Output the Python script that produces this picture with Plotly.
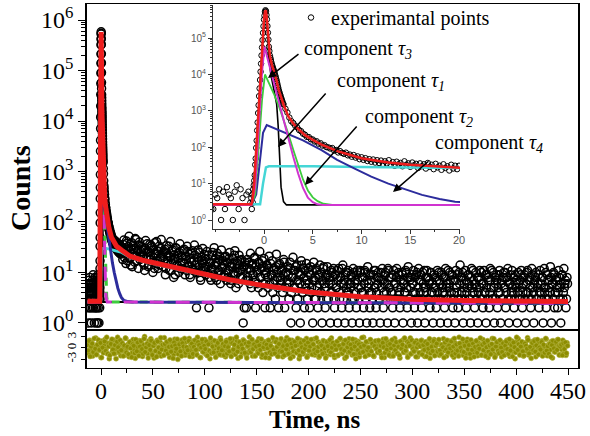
import numpy as np
import plotly.graph_objects as go

W, H = 590, 436
def px(x): return x / W
def py(y): return 1 - y / H

SERIF = "Liberation Serif, Times New Roman, serif"
SANS = "Liberation Sans, Arial, sans-serif"

# ---------------- experimental counts (read from the picture) ----------------
# t = -13.0 ... -1.4 ns, step 0.2
counts_pre = [3, 5, 2, 6, 4, 1, 7, 3, 4, 5, 2, 8, 3, 4, 6, 2, 5, 3, 1, 4,
              6, 3, 5, 2, 7, 4, 3, 9, 5, 2, 4, 6, 3, 1, 5, 4, 8, 3, 2,
              2, 5, 4, 7, 1, 6, 2, 8, 5, 4, 1, 6, 9, 2, 7, 4, 1, 5, 6, 3]
# t = -1.30 ... 1.95 ns, step 0.05
counts_peak = [4, 2, 5, 3, 7, 9, 12, 17, 33, 49, 96, 152, 290, 480, 870, 1430,
               2540, 4150, 7080, 11900, 19800, 33400, 55100, 88500, 139000,
               212000, 321000, 414000, 528000, 583000, 547000, 431000, 328000,
               214000, 141000, 90500, 57600, 44100, 33200, 28800, 25100, 21800,
               19000, 17300, 15500, 14300, 12900, 11800, 10600, 9500, 8450, 7480,
               6640, 5770, 5030, 4410, 3830, 3420, 3060, 2790, 2530, 2280, 2090,
               1910, 1720, 1580]
# t = 2.0 ... 19.8 ns, step 0.2
counts_tail = [1510, 1140, 900, 655, 520, 462, 391, 352, 298, 276,
               236, 221, 193, 190, 166, 163, 144, 146, 125, 129,
               111, 114, 101, 99, 92, 95, 81, 84, 72, 78,
               70, 66, 71, 60, 63, 55, 61, 52, 56, 47,
               53, 45, 50, 42, 47, 40, 46, 38, 44, 37,
               43, 35, 41, 36, 44, 33, 39, 31, 40, 34,
               37, 30, 41, 33, 36, 29, 38, 32, 35, 27,
               36, 30, 34, 26, 37, 29, 33, 25, 35, 28,
               31, 24, 34, 27, 30, 23, 33, 26, 31, 25]
# t = 20 ... 449 ns, step 1
d020 = [31, 18, 44, 25, 15, 38, 22, 52, 19, 29, 13, 35, 24, 47, 17, 27, 12, 40, 21, 33]
d040 = [16, 28, 11, 43, 20, 25, 14, 36, 18, 31, 10, 24, 39, 15, 27, 12, 33, 19, 45, 22]
d060 = [13, 26, 9, 34, 17, 22, 11, 41, 15, 28, 8, 19, 31, 14, 24, 10, 37, 16, 21, 12]
d080 = [29, 9, 18, 33, 13, 23, 8, 16, 27, 11, 35, 14, 2, 20, 10, 25, 7, 17, 30, 12]
d100 = [19, 9, 26, 13, 2, 16, 7, 22, 11, 31, 8, 15, 24, 10, 18, 6, 28, 12, 14, 9]
d120 = [21, 7, 16, 11, 25, 6, 13, 19, 9, 27, 5, 15, 10, 22, 8, 17, 12, 1, 2, 14]
d140 = [2, 18, 7, 12, 24, 5, 15, 9, 20, 2, 11, 6, 16, 26, 8, 13, 4, 19, 2, 10]
d160 = [14, 5, 21, 2, 9, 17, 6, 12, 3, 23, 8, 2, 15, 7, 11, 4, 18, 2, 10, 6]
d180 = [13, 3, 16, 1, 8, 20, 5, 11, 2, 14, 7, 9, 1, 17, 4, 12, 2, 6, 15, 3]
d200 = [10, 2, 13, 5, 1, 16, 7, 3, 11, 2, 8, 14, 4, 1, 12, 6, 2, 9, 13, 3]
d220 = [7, 1, 11, 4, 12, 2, 9, 5, 1, 12, 3, 8, 2, 14, 6, 1, 10, 4, 11, 2]
d240 = [6, 9, 1, 12, 3, 7, 2, 11, 5, 1, 10, 4, 8, 2, 11, 3, 1, 13, 6, 2]
d260 = [9, 4, 1, 11, 5, 2, 8, 10, 3, 1, 7, 12, 2, 6, 10, 4, 1, 11, 5, 3]
d280 = [8, 2, 11, 1, 6, 12, 3, 9, 2, 5, 10, 1, 7, 4, 10, 2, 13, 3, 8, 1]
d300 = [6, 11, 2, 4, 9, 1, 12, 3, 7, 2, 10, 5, 1, 8, 11, 3, 6, 2, 10, 4]
d320 = [1, 9, 5, 2, 11, 3, 7, 1, 10, 4, 8, 2, 12, 5, 1, 6, 10, 3, 9, 2]
d340 = [7, 1, 11, 4, 2, 10, 14, 3, 8, 1, 6, 11, 2, 5, 9, 3, 1, 12, 4, 7]
d360 = [2, 10, 5, 1, 8, 11, 3, 6, 2, 11, 4, 1, 9, 7, 2, 12, 5, 3, 10, 1]
d380 = [6, 9, 2, 4, 11, 1, 7, 3, 10, 5, 2, 8, 12, 1, 6, 3, 11, 4, 2, 9]
d400 = [5, 1, 10, 3, 7, 11, 2, 6, 9, 1, 4, 11, 3, 8, 2, 12, 5, 1, 7, 10]
d420 = [3, 6, 2, 11, 4, 8, 1, 12, 5, 2, 9, 3, 7, 13, 1, 6, 10, 2, 4, 8]
d440 = [2, 11, 5, 1, 9, 3, 12, 6, 2, 8]
counts_decay = (d020 + d040 + d060 + d080 + d100 + d120 + d140 + d160 + d180 + d200 +
                d220 + d240 + d260 + d280 + d300 + d320 + d340 + d360 + d380 + d400 +
                d420 + d440)
# t = 20.5 ... 449.5 ns, step 1
b020 = [24, 36, 20, 29, 42, 17, 33, 26, 14, 39, 23, 30, 16, 45, 21, 28, 35, 18, 26, 31]
b040 = [22, 14, 30, 19, 37, 13, 25, 21, 34, 16, 28, 12, 23, 41, 17, 26, 14, 30, 20, 24]
b060 = [18, 29, 12, 24, 15, 33, 20, 11, 26, 17, 22, 9, 30, 14, 19, 25, 12, 21, 16, 27]
b080 = [15, 21, 11, 26, 14, 9, 19, 24, 12, 17, 22, 10, 16, 28, 13, 8, 20, 15, 11, 23]
b100 = [13, 18, 10, 22, 8, 15, 12, 25, 9, 14, 19, 7, 16, 11, 21, 9, 13, 17, 8, 20]
b120 = [11, 16, 8, 19, 13, 7, 15, 10, 22, 9, 12, 17, 6, 14, 11, 18, 8, 13, 16, 7]
b140 = [12, 8, 16, 6, 11, 14, 9, 19, 7, 13, 10, 5, 15, 8, 12, 17, 6, 11, 9, 14]
b160 = [8, 12, 6, 15, 9, 4, 11, 7, 13, 10, 5, 14, 8, 6, 12, 9, 16, 5, 10, 7]
b180 = [9, 6, 12, 4, 8, 11, 5, 13, 7, 3, 10, 6, 9, 14, 4, 8, 11, 5, 7, 12]
b200 = [6, 9, 4, 11, 7, 3, 8, 12, 5, 9, 6, 4, 10, 7, 13, 5, 8, 3, 9, 6]
b220 = [8, 4, 10, 6, 3, 9, 5, 11, 7, 4, 8, 6, 12, 3, 7, 9, 5, 10, 4, 6]
b240 = [5, 8, 3, 10, 6, 4, 9, 7, 3, 11, 5, 8, 4, 6, 10, 3, 7, 5, 9, 4]
b260 = [7, 3, 9, 5, 11, 4, 6, 8, 3, 10, 5, 7, 4, 9, 3, 6, 12, 5, 8, 4]
b280 = [4, 9, 6, 3, 8, 5, 10, 4, 7, 3, 9, 6, 4, 11, 5, 8, 3, 7, 5, 9]
b300 = [6, 4, 8, 3, 10, 5, 7, 4, 9, 3, 6, 11, 5, 4, 8, 3, 7, 10, 4, 6]
b320 = [5, 8, 3, 7, 4, 10, 6, 3, 9, 5, 4, 8, 6, 3, 11, 5, 7, 4, 9, 3]
b340 = [4, 7, 5, 9, 3, 6, 8, 4, 10, 5, 3, 7, 4, 9, 6, 3, 8, 5, 11, 4]
b360 = [6, 3, 8, 4, 7, 5, 10, 3, 6, 4, 9, 5, 3, 8, 4, 7, 11, 3, 5, 8]
b380 = [3, 7, 5, 9, 4, 6, 3, 8, 5, 10, 4, 7, 3, 6, 9, 4, 5, 8, 3, 6]
b400 = [7, 4, 6, 3, 9, 5, 4, 8, 3, 6, 10, 4, 7, 5, 3, 9, 4, 6, 8, 3]
b420 = [5, 9, 4, 6, 3, 8, 5, 4, 10, 3, 7, 5, 4, 8, 6, 3, 9, 4, 7, 5]
b440 = [4, 8, 3, 6, 9, 4, 5, 7, 3, 6]
counts_decay_b = (b020 + b040 + b060 + b080 + b100 + b120 + b140 + b160 + b180 + b200 +
                  b220 + b240 + b260 + b280 + b300 + b320 + b340 + b360 + b380 + b400 +
                  b420 + b440)

# ---------------- fitted curves ----------------
fit_t = [-13, -1.3, -1.2, -1.1, -1.0, -0.9, -0.8, -0.7, -0.6, -0.5, -0.4, -0.3, -0.2,
         -0.1, 0.0, 0.1, 0.15, 0.2, 0.3, 0.4, 0.5, 0.6, 0.8, 1.0, 1.25, 1.5, 2.0, 2.5,
         3.0, 3.5, 4.2, 5.0, 5.9, 7.6, 10, 12.75, 15, 20, 28, 40, 60, 76, 100, 124,
         150, 172, 200, 250, 300, 350, 400, 450]
fit_v = [2.7, 2.7, 3.2, 5, 11, 30, 90, 280, 850, 2500, 7000, 20000, 55000,
         140000, 320000, 530000, 580000, 550000, 330000, 140000, 58000, 33000, 19000,
         13000, 7500, 3800, 1500, 700, 450, 320, 215, 160, 118, 77, 50, 38, 33, 27.5,
         21, 17.5, 14, 12, 9.3, 7.2, 5.8, 4.9, 4.1, 3.3, 2.95, 2.8, 2.7, 2.65]

tau1_t = [-13, -1.3, -0.9, -0.5, -0.1, 0.1, 0.3, 0.5, 0.7, 1.0, 1.3, 1.45, 1.6, 1.75, 2.0, 2.3, 20, 450]
tau1_v = [2.6, 2.6, 30, 2000, 130000, 460000, 260000, 30000, 10000, 4000, 1500, 400, 40, 8, 3.2, 2.6, 2.6, 2.45]

tau3_t = [-13, -1.3, -0.9, -0.5, -0.2, 0.05, 0.5, 1.0, 1.5, 2.0, 2.5, 3.0, 3.5, 4.0, 4.5, 5.0, 5.5, 6.0, 20, 450]
tau3_v = [2.6, 2.6, 8, 400, 12000, 58000, 20000, 6000, 1800, 560, 170, 55, 19, 7.6, 4.1, 3.1, 2.7, 2.6, 2.6, 2.45]

tau2_t = [-13, -1.3, -0.9, -0.5, -0.2, 0.1, 0.5, 1.0, 1.5, 2.0, 2.5, 3.0, 3.5, 4.0, 4.5, 5.0, 5.5, 6.1, 7.0, 20, 450]
tau2_v = [2.6, 2.6, 5, 120, 2000, 10000, 6000, 3000, 1400, 600, 230, 85, 32, 13, 6.5, 4.2, 3.3, 2.8, 2.6, 2.6, 2.45]

tau4_t = [-13, -1.3, -0.8, -0.4, -0.1, 0.28, 1.0, 2.5, 4.0, 5.9, 7.5, 9.3, 11, 12.75, 14.5, 16.2, 18, 19.6, 22, 26, 30, 450]
tau4_v = [2.6, 2.6, 5, 60, 250, 410, 340, 240, 155, 83, 45, 26, 15.5, 10, 6.8, 4.9, 3.8, 3.2, 2.8, 2.65, 2.6, 2.45]

long_t = [-13, -0.4, -0.1, 0.2, 0.5, 5, 10, 15, 20, 28, 40, 60, 76, 100, 124, 150, 172, 200, 250, 300, 450]
long_v = [2.6, 2.7, 10, 28, 30, 30, 28.5, 27, 25, 20, 16.8, 13.4, 11.5, 8.9, 6.9, 5.5, 4.7, 3.9, 3.15, 2.85, 2.6]

# ---------------- weighted residuals ----------------
# t = -13 ... 449 ns, step 1
res_a = [0.8, -1.4, 2.1, -0.3, 1.6, -2.2, 0.4, -0.9, 2.7, -1.8, 1.1, -0.6, 0.2, -2.6, 1.9, -1.1, 0.7, 2.4, -0.2, -1.5,
         1.3, -2.9, 0.5, 1.8, -0.8, 2.2, -1.6, 0.1, -0.4, 2.9, -1.2, 0.9, -2.1, 1.5, -0.7, 0.3, -1.9, 2.6, -0.1, 1.0,
         -2.4, 0.6, 1.7, -1.3, 2.3, -0.5, -2.8, 1.2, 0.2, -1.7, 2.0, -0.9, 1.4, -2.3, 0.8, 3.1, -1.0, 0.4, -1.6, 1.9,
         -0.2, 2.5, -1.4, 0.7, -2.7, 1.1, -0.6, 2.1, -1.9, 0.3, 1.6, -2.2, 0.9, -0.3, 2.8, -1.5, 0.5, -1.1, 1.3, -2.5,
         1.8, -0.4, 0.6, -1.8, 2.4, -0.9, 1.0, -3.1, 0.2, 1.5, -1.2, 2.2, -0.7, 0.8, -2.0, 1.7, -0.1, -1.4, 2.6, -0.6,
         0.4, -2.3, 1.9, -0.8, 1.2, -1.6, 2.9, -0.3, 0.7, -2.6, 1.4, -1.0, 0.1, 2.3, -1.7, 0.9, -0.5, 1.6, -2.9, 1.1,
         -1.3, 2.0, -0.2, 0.6, -2.1, 1.8, -1.1, 0.3, 2.7, -1.9, 0.5, -0.7, 1.3, -2.4, 2.1, -0.4, 0.8, -1.5, 1.5, -0.9,
         2.4, -1.7, 0.2, -0.6, 1.9, -2.8, 1.0, -0.3, 0.7, -1.4, 2.2, -0.8, 1.6, -2.0, 0.4, -1.2, 3.0, -0.5, 0.9, -2.2]
res_b = [0.6, 1.4, -1.9, 0.3, -0.9, 2.5, -1.3, 1.1, -2.5, 0.8, -0.2, 1.7, -1.6, 0.5, 2.0, -2.7, 1.2, -0.4, 0.1, -1.0,
         1.9, -0.6, 2.3, -2.0, 0.7, -1.1, 1.5, -0.3, -2.4, 1.0, 0.4, -1.8, 2.8, -0.7, 1.3, -1.5, 0.2, 2.1, -2.3, 0.6,
         -0.8, 1.6, -1.2, 0.9, -2.9, 2.2, -0.1, 0.5, -1.6, 1.8, -0.5, 2.6, -2.1, 0.3, -0.9, 1.4, -1.4, 0.8, 2.4, -1.9,
         0.2, -1.0, 1.7, -2.5, 0.6, 1.2, -0.7, 2.0, -1.3, 0.4, -2.2, 1.5, -0.2, 0.9, -1.8, 2.7, -0.6, 1.1, -2.6, 0.7,
         1.4, -2.1, 0.3, 2.3, -1.5, 0.8, -0.4, 1.9, -2.8, 1.0, 0.1, -1.2, 2.5, -0.8, 0.6, -1.9, 1.3, -0.3, 2.2, -1.6,
         -0.5, 1.8, -2.4, 0.7, 1.1, -1.0, 2.9, -0.6, 0.4, -2.0, 1.6, -1.3, 0.2, 2.1, -1.7, 0.9, -2.3, 1.5, -0.1, 0.5,
         2.0, -0.9, 1.2, -1.8, 0.3, 2.4, -2.6, 0.8, -0.4, 1.7, -1.1, 0.6, -2.2, 1.9, 0.1, -1.4, 2.6, -0.7, 1.0, -1.5,
         0.7, -2.7, 1.5, -0.2, 2.2, -1.2, 0.4, -0.8, 1.8, -2.1, 0.9, 2.7, -1.6, 0.3, -1.0, 1.3, -0.5, 2.0, -2.4, 1.1]
res_c = [-1.4, 0.5, 2.1, -0.9, 1.4, -2.3, 0.2, 1.7, -1.1, 0.6, -2.8, 1.9, -0.3, 0.8, 2.3, -1.7, 1.0, -0.6, 1.6, -2.0,
         0.9, -1.5, 0.3, 2.5, -0.7, 1.2, -2.2, 0.6, 1.9, -1.3, 0.1, -0.9, 2.2, -2.5, 1.4, -0.4, 0.7, -1.8, 2.9, -0.2,
         1.1, -0.8, -2.0, 1.6, 0.4, -1.6, 2.4, -0.5, 1.0, -2.7, 0.8, 1.5, -1.2, 0.2, -0.6, 2.0, -2.1, 1.3, -0.3, 0.9,
         -1.9, 2.3, -0.4, 0.7, -1.3, 1.8, -2.6, 1.1, 0.3, -0.9, 2.6, -1.5, 0.5, -2.0, 1.2, -0.1, 1.7, -1.1, 0.6, -2.4,
         1.5, -0.3, 0.8, -1.7, 2.1, -0.6, 1.3, -2.3, 0.2, 1.9, -1.0, 0.4, -2.9, 1.6, -0.5, 2.5, -1.4, 0.9, -0.2, 1.2,
         -2.2, 0.6, 1.4, -0.8, 2.8, -1.9, 0.1, -0.7, 1.7, -1.2, 0.5, 2.2, -2.4, 1.0, -0.3, 1.5, -1.6, 0.3, 2.0, -0.9,
         0.4, -1.3, 2.4, -2.1, 0.9, 1.1, -0.5, 1.8, -2.7, 0.7, -1.0, 1.3, -0.2, 2.3, 0.6, -1.8, 1.0, -0.4, 2.1, -1.5,
         0.3, -2.0, 1.4]
# t = -12.5 ... 449.5 ns, step 1
res_d = [-0.7, 1.9, -2.3, 0.4, 1.2, -1.1, 2.6, -0.2, -1.8, 0.9, 2.2, -0.5, 1.4, -2.6, 0.1, -1.3, 1.8, -0.8, 2.9, -1.6,
         0.5, -2.0, 1.1, 2.4, -0.4, -1.5, 0.8, -2.9, 1.7, 0.2, -1.0, 2.1, -0.6, 1.3, -2.2, 0.7, 2.7, -1.2, 0.3, -1.7,
         1.6, -0.1, -2.5, 1.0, 0.6, -1.4, 2.3, -0.9, 1.5, -2.1, 0.4, 1.9, -0.3, -1.6, 2.5, -1.1, 0.2, 1.2, -2.7, 0.8,
         -0.5, 2.0, -1.9, 0.6, 1.4, -0.8, -2.4, 1.8, 0.1, -1.2, 2.8, -0.4, 0.9, -2.0, 1.1, -0.7, 1.7, -1.5, 0.3, 2.2,
         -1.0, 0.5, -2.8, 1.5, 0.7, -0.2, 2.4, -1.7, 1.0, -0.9, -2.2, 1.3, 0.4, 2.6, -1.3, 0.2, -0.6, 1.9, -2.3, 0.9,
         1.2, -1.6, 0.3, 2.1, -0.5, -1.9, 1.6, 0.8, -2.6, 0.1, 2.3, -1.1, 0.6, -0.3, 1.8, -2.1, 1.0, -0.8, 2.7, -1.4,
         0.4, -1.2, 2.0, -2.5, 0.7, 1.4, -0.1, -1.8, 2.2, -0.6, 1.1, -2.0, 0.5, 1.7, -1.5, 0.2, -0.9, 2.5, -2.3, 1.3,
         -0.4, 0.9, -1.7, 2.9, -1.0, 0.3, 1.6, -2.4, 0.8, -0.2, 2.0, -1.3, 1.2, -2.7, 0.6, 1.5, -0.7, -1.1, 2.3, -0.3]
res_e = [1.0, -2.2, 0.4, 1.8, -1.4, 0.7, -0.5, 2.4, -1.9, 0.2, 1.3, -2.6, 0.9, -0.1, 2.1, -1.2, 0.6, -1.7, 2.8, -0.4,
         -1.5, 1.6, 0.3, -2.3, 1.1, -0.8, 2.5, -1.0, 0.5, -2.0, 1.9, -0.3, 0.8, -1.6, 2.2, -2.8, 1.2, 0.1, -0.9, 1.7,
         0.6, -1.3, 2.6, -0.6, -2.1, 1.4, 0.2, -1.1, 2.0, -0.2, 0.9, -2.5, 1.5, -0.7, 0.4, 2.3, -1.8, 1.0, -0.5, -1.4,
         2.7, -0.9, 0.3, -2.2, 1.2, 0.7, -1.6, 1.9, -0.1, -2.7, 1.6, 0.5, -0.8, 2.2, -1.2, 0.1, 1.4, -2.0, 0.8, -0.4,
         1.8, -1.9, 0.6, 2.6, -0.3, -1.5, 1.1, -0.7, 2.1, -2.4, 0.2, 1.3, -1.0, 0.9, -0.2, 2.4, -1.7, 0.4, -2.9, 1.5,
         -0.6, 1.0, -1.4, 0.3, 2.8, -1.1, 0.7, -2.3, 1.7, -0.5, 0.1, -1.8, 2.3, -0.9, 1.2, -2.1, 0.5, 1.9, -0.3, -1.2,
         2.0, -0.8, 0.6, -2.6, 1.4, 0.2, -1.3, 2.5, -0.4, 0.8, -1.9, 1.1, -0.1, 2.2, -2.2, 0.7, -0.6, 1.6, -1.5, 0.3,
         -2.0, 1.8, -0.2, 0.9, -1.1, 2.7, -0.7, 0.4, -2.5, 1.3, 0.6, -1.6, 2.1, -0.3, -0.9, 1.5, -2.4, 0.2, 1.0, -1.3]
res_f = [0.5, 2.0, -1.8, 0.8, -0.5, 1.6, -2.3, 1.1, -0.2, 2.5, -1.4, 0.3, -0.8, 1.9, -2.1, 0.6, 1.2, -1.0, 2.3, -0.6,
         -1.7, 0.9, 0.2, -2.6, 1.5, -0.4, 2.1, -1.2, 0.7, -0.1, 1.8, -2.0, 0.4, 2.6, -1.5, 1.0, -0.7, -2.2, 1.3, 0.1,
         -0.9, 2.4, -1.1, 0.6, -2.7, 1.7, -0.3, 0.8, -1.6, 2.2, -0.5, 1.2, -2.4, 0.3, 1.9, -1.3, 0.5, -0.2, 2.7, -1.9,
         0.9, -0.6, 1.4, -2.2, 0.2, 2.0, -1.0, 0.7, -1.7, 1.1, -0.4, 2.5, -2.5, 0.4, 1.6, -0.8, -1.4, 2.1, 0.1, -1.1,
         1.3, -2.0, 0.6, 1.8, -0.3, -1.6, 2.4, -0.7, 0.8, -2.3, 1.5, 0.2, -1.2, 2.9, -0.5, 1.0, -1.9, 0.4, 1.7, -0.9,
         -2.1, 1.2, 0.6, -0.2, 2.2, -1.5, 0.3, -2.8, 1.4, -0.6, 1.9, -1.0, 0.7, 2.3, -1.8, 0.1, -0.4, 1.6, -2.2, 0.9,
         -1.3, 2.6, -0.7, 0.5, -1.6, 1.1, -2.4, 0.8, 2.0, -0.1, -1.1, 1.7, -0.5, 2.3, -1.9, 0.4, 0.9, -2.0, 1.3, -0.3,
         1.5, -1.4, 0.6]
residuals = res_a + res_b + res_c
residuals_half = res_d + res_e + res_f

# ---------------- axis ticks ----------------
decades = [1, 10, 100, 1000, 10000, 100000, 1000000]
decade_labels = ["10<sup>0</sup>", "10<sup>1</sup>", "10<sup>2</sup>", "10<sup>3</sup>",
                 "10<sup>4</sup>", "10<sup>5</sup>", "10<sup>6</sup>"]
minor_log = [m * d for d in decades[:-1] for m in range(2, 10)]
inset_ticks = [0, 5, 10, 15, 20]
res_ticks = [-3, 0, 3]

t_exp = np.concatenate([
    -13.0 + 0.2 * np.arange(len(counts_pre)),
    -1.3 + 0.05 * np.arange(len(counts_peak)),
    2.0 + 0.2 * np.arange(len(counts_tail)),
    20.0 + np.arange(len(counts_decay)),
    20.5 + np.arange(len(counts_decay_b)),
])
c_exp = np.concatenate([counts_pre, counts_peak, counts_tail, counts_decay,
                        counts_decay_b]).astype(float)
t_res = np.concatenate([-13.0 + np.arange(len(residuals)),
                        -12.5 + np.arange(len(residuals_half))])
r_res = np.array(residuals + residuals_half)

RED = "#ee1d1d"
BLUE = "#2c2c9c"
GREEN = "#3ccc3c"
MAGENTA = "#d033d0"
CYAN = "#44d6d6"
OLIVE = "#8c8c00"

fig = go.Figure()

# ---- main panel ----
fig.add_trace(go.Scatter(x=t_exp, y=c_exp, mode="markers", xaxis="x", yaxis="y",
                         marker=dict(symbol="circle-open", size=8, color="black", line=dict(width=1.5)),
                         showlegend=False))
main_curves = [
    (tau1_t, tau1_v, "black", 2, "solid"),
    (tau2_t, tau2_v, GREEN, 3, "8px,6px"),
    (long_t, long_v, CYAN, 3, "solid"),
    (tau4_t, tau4_v, BLUE, 3, "solid"),
    (tau3_t, tau3_v, MAGENTA, 3, "14px,12px"),
    (fit_t, fit_v, RED, 5, "solid"),
]
for xs, ys, col, w, dash in main_curves:
    fig.add_trace(go.Scatter(x=xs, y=ys, mode="lines", xaxis="x", yaxis="y",
                             line=dict(color=col, width=w, dash=dash), showlegend=False))

# ---- residual panel ----
fig.add_trace(go.Scatter(x=t_res, y=r_res, mode="markers", xaxis="x2", yaxis="y2",
                         marker=dict(symbol="circle", size=5, color=OLIVE,
                                     line=dict(width=0.6, color="#b4b440")),
                         showlegend=False))

# ---- inset ----
fig.add_trace(go.Scatter(x=t_exp, y=c_exp, mode="markers", xaxis="x3", yaxis="y3",
                         name="experimantal points",
                         marker=dict(symbol="circle-open", size=5.5, color="black", line=dict(width=1)),
                         showlegend=True))
inset_curves = [
    (tau1_t, tau1_v, "black", 1.6),
    (long_t, long_v, CYAN, 2.5),
    (tau4_t, tau4_v, BLUE, 2),
    (tau2_t, tau2_v, GREEN, 1.8),
    (tau3_t, tau3_v, MAGENTA, 2),
    (fit_t, fit_v, RED, 2.5),
]
for xs, ys, col, w in inset_curves:
    fig.add_trace(go.Scatter(x=xs, y=ys, mode="lines", xaxis="x3", yaxis="y3",
                             line=dict(color=col, width=w), showlegend=False))

tickfont_main = dict(family=SERIF, size=24, color="black")
inset_font = dict(family=SANS, size=10, color="#555555")

fig.update_layout(
    width=W, height=H,
    margin=dict(l=0, r=0, t=0, b=0, autoexpand=False),
    paper_bgcolor="white", plot_bgcolor="white",
    xaxis=dict(domain=[px(87), px(578)], range=[-13.5, 459.6], anchor="y",
               showline=True, mirror=True, linecolor="black", linewidth=1.2,
               ticks="", showticklabels=False, showgrid=False, zeroline=False),
    yaxis=dict(domain=[py(330), py(4)], type="log", range=[-0.139, 6.317], anchor="x",
               tickmode="array", tickvals=decades, ticktext=decade_labels,
               ticks="outside", ticklen=7, tickwidth=1.2, tickcolor="black",
               minor=dict(tickmode="array", tickvals=minor_log, ticks="outside", ticklen=4,
                          tickcolor="black", tickwidth=1),
               tickfont=tickfont_main, showline=True, mirror=True, linecolor="black",
               linewidth=1.5, showgrid=False, zeroline=False),
    xaxis2=dict(domain=[px(87), px(578)], range=[-13.5, 459.6], anchor="y2",
                tickmode="linear", tick0=0, dtick=50,
                ticks="outside", ticklen=6, tickwidth=1.2, tickcolor="black",
                ticklabelstandoff=-5,
                minor=dict(dtick=25, ticks="outside", ticklen=4, tickcolor="black"),
                tickfont=tickfont_main, showline=True, mirror=True, linecolor="black",
                linewidth=1.2, showgrid=False, zeroline=False),
    yaxis2=dict(domain=[py(368), py(330)], range=[-5.45, 4.9], anchor="x2",
                tickmode="array", tickvals=res_ticks, ticktext=[str(v) for v in res_ticks],
                tickangle=-90, ticks="outside", ticklen=4, tickcolor="black",
                tickfont=dict(family=SERIF, size=13, color="black"),
                showline=True, mirror=True, linecolor="black", linewidth=1.5,
                showgrid=False, zeroline=False),
    xaxis3=dict(domain=[px(213), px(460)], range=[-5.23, 20.1], anchor="y3",
                tickmode="array", tickvals=inset_ticks,
                ticks="outside", ticklen=4, tickcolor="#333333",
                ticklabelstandoff=-3,
                minor=dict(dtick=2.5, ticks="outside", ticklen=2, tickcolor="#333333"),
                tickfont=dict(family=SANS, size=11, color="#555555"),
                showline=True, mirror=False, linecolor="#333333", linewidth=1,
                showgrid=False, zeroline=False),
    yaxis3=dict(domain=[py(229), py(5)], type="log", range=[-0.247, 5.91], anchor="x3",
                tickmode="array", tickvals=decades[:-1], ticktext=decade_labels[:-1],
                ticks="outside", ticklen=4, tickcolor="#333333",
                minor=dict(tickmode="array", tickvals=minor_log, ticks="outside", ticklen=2,
                           tickcolor="#333333"),
                tickfont=inset_font, showline=True, mirror=False, linecolor="#333333",
                linewidth=1, showgrid=False, zeroline=False),
    legend=dict(x=px(291), y=py(-2), xanchor="left", yanchor="top",
                bgcolor="rgba(0,0,0,0)", borderwidth=0,
                font=dict(family=SERIF, size=20, color="black"),
                itemsizing="trace"),
)

annotations = [
    dict(text="<b>Counts</b>", x=px(20), y=py(188), textangle=-90,
         xanchor="center", yanchor="middle",
         font=dict(family=SERIF, size=28, color="black")),
    dict(text="<b>Time, ns</b>", x=px(314), y=py(419),
         xanchor="center", yanchor="middle",
         font=dict(family=SERIF, size=25, color="black")),
]
for n, (lx, ly) in zip([3, 1, 2, 4], [(302, 50), (335, 82), (363, 117), (433, 143)]):
    annotations.append(dict(text=f"component <i>τ<sub>{n}</sub></i>", x=px(lx), y=py(ly),
                            xanchor="left", yanchor="middle",
                            font=dict(family=SERIF, size=20, color="black")))
for (hx, hy), (tx, ty) in [((268, 78), (300, 53)), ((278, 147), (327, 92)),
                           ((305, 185), (358, 125)), ((393, 192), (430, 160))]:
    annotations.append(dict(text="", x=px(hx), y=py(hy), ax=tx - hx, ay=ty - hy,
                            axref="pixel", ayref="pixel", showarrow=True,
                            arrowhead=2, arrowsize=1.1, arrowwidth=1.5,
                            arrowcolor="black", standoff=0))
for a in annotations:
    a.setdefault("xref", "paper")
    a.setdefault("yref", "paper")
    a.setdefault("showarrow", False)
fig.update_layout(annotations=annotations)

fig.write_html("out.html", config={"displayModeBar": False},
               post_script="document.body.style.margin='0px';document.body.style.overflow='hidden';")
